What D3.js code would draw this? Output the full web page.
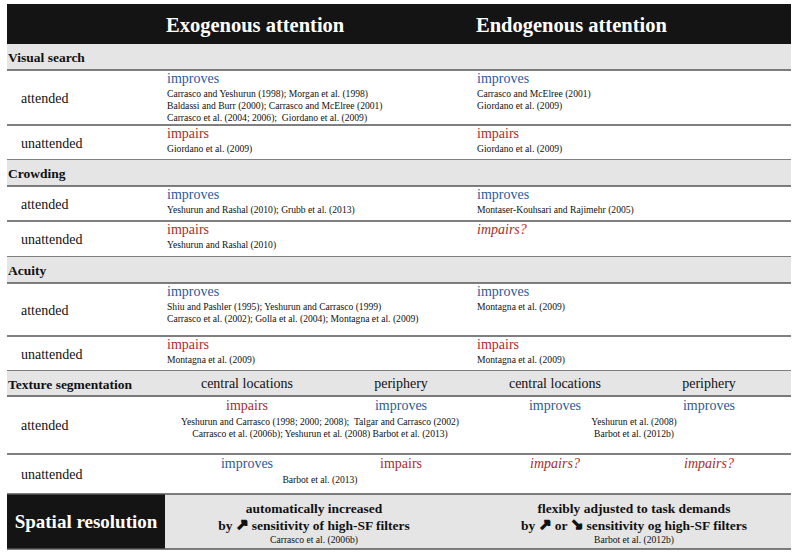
<!DOCTYPE html>
<html>
<head>
<meta charset="utf-8">
<script src="https://cdn.jsdelivr.net/npm/d3@7"></script>
<style>
  body { margin: 0; background: #fff; }
  svg text { font-family: "Liberation Serif", "Times New Roman", serif; white-space: pre; }
  svg tspan.arrow { font-family: "DejaVu Sans", sans-serif; }
</style>
</head>
<body>
<div id="chart"></div>
<script>
// table content
var columns = ["Exogenous attention", "Endogenous attention"];
var sections = ["Visual search", "Crowding", "Acuity"];
var conditions = ["attended", "unattended"];

// [section][condition][column] effect word
var effects = [
    [["improves", "improves"], ["impairs", "impairs"]],
    [["improves", "improves"], ["impairs", "impairs?"]],
    [["improves", "improves"], ["impairs", "impairs"]]
];
// [section][condition][column] reference lines
var refs = [
    [[["Carrasco and Yeshurun (1998); Morgan et al. (1998)",
       "Baldassi and Burr (2000); Carrasco and McElree (2001)",
       "Carrasco et al. (2004; 2006);  Giordano et al. (2009)"],
      ["Carrasco and McElree (2001)", "Giordano et al. (2009)"]],
     [["Giordano et al. (2009)"], ["Giordano et al. (2009)"]]],
    [[["Yeshurun and Rashal (2010); Grubb et al. (2013)"],
      ["Montaser-Kouhsari and Rajimehr (2005)"]],
     [["Yeshurun and Rashal (2010)"], []]],
    [[["Shiu and Pashler (1995); Yeshurun and Carrasco (1999)",
       "Carrasco et al. (2002); Golla et al. (2004); Montagna et al. (2009)"],
      ["Montagna et al. (2009)"]],
     [["Montagna et al. (2009)"], ["Montagna et al. (2009)"]]]
];

var textureTitle = "Texture segmentation";
var locations = ["central locations", "periphery", "central locations", "periphery"];
// [condition][location]
var textureEffects = [
    ["impairs", "improves", "improves", "improves"],
    ["improves", "impairs", "impairs?", "impairs?"]
];
// [condition][column]
var textureRefs = [
    [["Yeshurun and Carrasco (1998; 2000; 2008);  Talgar and Carrasco (2002)",
      "Carrasco et al. (2006b); Yeshurun et al. (2008) Barbot et al. (2013)"],
     ["Yeshurun et al. (2008)", "Barbot et al. (2012b)"]],
    [["Barbot et al. (2013)"], []]
];

var spatialTitle = "Spatial resolution";
// each line split into text pieces, arrows marked
var spatialText = [
    [["automatically increased"], ["by ", "\u2197", " sensitivity of high-SF filters"]],
    [["flexibly adjusted to task demands"], ["by ", "\u2197", " or ", "\u2198", " sensitivity og high-SF filters"]]
];
var spatialRefs = ["Carrasco et al. (2006b)", "Barbot et al. (2012b)"];

// layout
var width = 800, height = 553;
var left = 7, right = 791;
var blue = "#2a5a9e", red = "#b02a2c";
var bandH = 26;
var rowH = [[55, 35], [35, 36], [53, 35]];
var textureRowH = [58, 40];

var svg = d3.select("#chart").append("svg")
    .attr("width", width)
    .attr("height", height);

var colX = d3.scaleBand().domain(columns).range([167, 787]);
var locX = d3.scalePoint().domain(d3.range(4)).range([247, 709]);
var refX = d3.scalePoint().domain(columns).range([320, 634]);
var spX = d3.scalePoint().domain(columns).range([314, 634]);

function effectColor(e) { return e.indexOf("improves") === 0 ? blue : red; }
function isArrow(s) { return s === "\u2197" || s === "\u2198"; }

// header
svg.append("rect").attr("x", left).attr("y", 4).attr("width", right - left).attr("height", 40)
    .attr("fill", "#141414");
svg.selectAll(".colhead").data(columns).enter().append("text")
    .attr("class", "colhead")
    .attr("x", function(d) { return colX(d) - 1; })
    .attr("y", 32)
    .attr("fill", "#fff")
    .attr("font-size", "20.5px")
    .attr("font-weight", "bold")
    .text(function(d) { return d; });

var y = 44;

function band(title) {
    svg.append("rect").attr("x", left).attr("y", y).attr("width", right - left).attr("height", bandH)
        .attr("fill", "#e5e5e5");
    svg.append("text").attr("x", left + 1).attr("y", y + 18)
        .attr("font-size", "13.5px").attr("font-weight", "bold").attr("fill", "#111")
        .text(title);
}
function hline(yy) {
    svg.append("line").attr("x1", left).attr("x2", right).attr("y1", yy).attr("y2", yy)
        .attr("stroke", "#555").attr("stroke-width", 1.6);
}

sections.forEach(function(sec, si) {
    band(sec);
    y += bandH;
    hline(y);
    conditions.forEach(function(cond, ci) {
        var h = rowH[si][ci];
        var g = svg.append("g").attr("transform", "translate(0," + y + ")");
        g.append("text").attr("x", 21).attr("y", h / 2 + 5)
            .attr("font-size", "14px").attr("fill", "#111").text(cond);
        var cell = g.selectAll(".cell").data(columns).enter().append("g")
            .attr("transform", function(d) { return "translate(" + colX(d) + ",0)"; });
        cell.append("text").attr("y", 13)
            .attr("font-size", "14px")
            .attr("font-style", function(d, i) { return effects[si][ci][i].slice(-1) === "?" ? "italic" : null; })
            .attr("fill", function(d, i) { return effectColor(effects[si][ci][i]); })
            .text(function(d, i) { return effects[si][ci][i]; });
        cell.each(function(d, i) {
            d3.select(this).selectAll(".ref").data(refs[si][ci][i]).enter().append("text")
                .attr("y", function(r, k) { return 27 + k * 12; })
                .attr("font-size", "9.6px").attr("fill", "#111")
                .text(function(r) { return r; });
        });
        y += h;
        hline(y);
    });
});

// texture segmentation
band(textureTitle);
svg.selectAll(".loc").data(locations).enter().append("text")
    .attr("x", function(d, i) { return locX(i); })
    .attr("y", y + 17)
    .attr("text-anchor", "middle")
    .attr("font-size", "14px").attr("fill", "#111")
    .text(function(d) { return d; });
y += bandH - 1;
hline(y);
conditions.forEach(function(cond, ci) {
    var h = textureRowH[ci];
    var g = svg.append("g").attr("transform", "translate(0," + y + ")");
    g.append("text").attr("x", 21).attr("y", h / 2 + 5)
        .attr("font-size", "14px").attr("fill", "#111").text(cond);
    g.selectAll(".eff").data(textureEffects[ci]).enter().append("text")
        .attr("x", function(d, i) { return locX(i); })
        .attr("y", 14)
        .attr("text-anchor", "middle")
        .attr("font-size", "14px")
        .attr("font-style", function(d) { return d.slice(-1) === "?" ? "italic" : null; })
        .attr("fill", effectColor)
        .text(function(d) { return d; });
    columns.forEach(function(col, k) {
        g.selectAll(".ref" + k).data(textureRefs[ci][k]).enter().append("text")
            .attr("x", refX(col))
            .attr("y", function(r, j) { return 29 + j * 12; })
            .attr("text-anchor", "middle")
            .attr("font-size", "9.6px").attr("fill", "#111")
            .text(function(r) { return r; });
    });
    y += h;
    if (ci === 0) hline(y);
});

// spatial resolution
var sy = y;
svg.append("rect").attr("x", left).attr("y", sy).attr("width", right - left).attr("height", 55)
    .attr("fill", "#e5e5e5");
svg.append("rect").attr("x", left).attr("y", sy).attr("width", 158).attr("height", 55)
    .attr("fill", "#141414");
hline(sy);
hline(sy + 55);
svg.append("text").attr("x", left + 79).attr("y", sy + 34)
    .attr("text-anchor", "middle").attr("fill", "#fff")
    .attr("font-size", "19px").attr("font-weight", "bold")
    .text(spatialTitle);
columns.forEach(function(col, k) {
    var lines = svg.selectAll(".sp" + k).data(spatialText[k]).enter().append("text")
        .attr("x", spX(col))
        .attr("y", function(d, j) { return sy + 19 + j * 17; })
        .attr("text-anchor", "middle")
        .attr("font-size", "13.5px").attr("font-weight", "bold").attr("fill", "#111");
    lines.selectAll("tspan").data(function(d) { return d; }).enter().append("tspan")
        .attr("class", function(s) { return isArrow(s) ? "arrow" : null; })
        .attr("font-size", function(s) { return isArrow(s) ? "15px" : null; })
        .attr("stroke", function(s) { return isArrow(s) ? "#111" : null; })
        .attr("stroke-width", function(s) { return isArrow(s) ? 1.4 : null; })
        .text(function(s) { return s; });
    svg.append("text").attr("x", spX(col)).attr("y", sy + 49)
        .attr("text-anchor", "middle")
        .attr("font-size", "9.6px").attr("fill", "#111")
        .text(spatialRefs[k]);
});
</script>
</body>
</html>
